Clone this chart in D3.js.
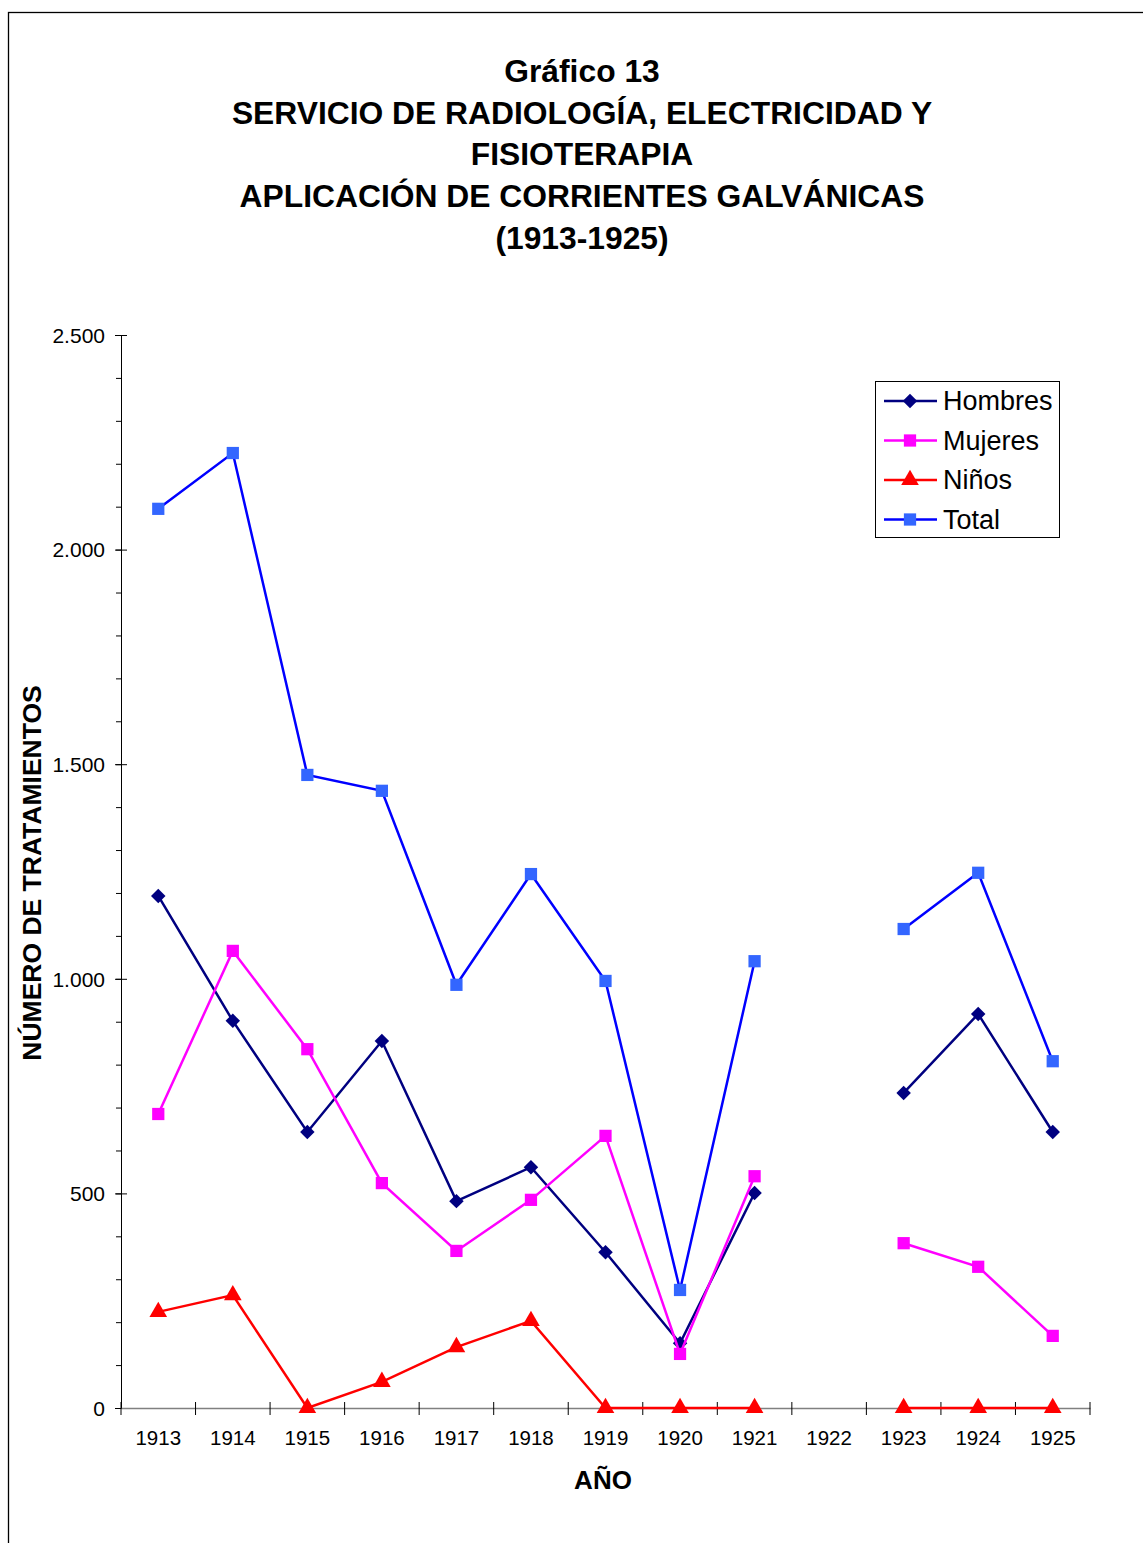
<!DOCTYPE html>
<html>
<head>
<meta charset="utf-8">
<script src="https://cdn.jsdelivr.net/npm/d3@7"></script>
<style>
  body { margin: 0; background: #fff; }
  svg { font-family: "Liberation Sans", Arial, sans-serif; }
</style>
</head>
<body>
<div id="chart"></div>
<script>
// data
const years = ["1913", "1914", "1915", "1916", "1917", "1918", "1919", "1920", "1921", "1922", "1923", "1924", "1925"];
const hombres = [1193, 902, 643, 855, 482, 561, 363, 151, 501, null, 734, 918, 643];
const mujeres = [685, 1065, 836, 524, 366, 485, 634, 126, 540, null, 384, 329, 168];
const ninos = [224, 263, 0, 61, 142, 203, 0, 0, 0, null, 0, 0, 0];
const total = [2095, 2225, 1475, 1438, 986, 1244, 995, 275, 1041, null, 1116, 1247, 808];
const yTicks = [0, 500, 1000, 1500, 2000, 2500];
const titleLines = ["Gráfico 13", "SERVICIO DE RADIOLOGÍA, ELECTRICIDAD Y", "FISIOTERAPIA", "APLICACIÓN DE CORRIENTES GALVÁNICAS", "(1913-1925)"];

const series = [
    { name: "Hombres", values: hombres, line: "#000080", fill: "#000080", shape: d3.symbolSquare, size: 105, rot: 45 },
    { name: "Mujeres", values: mujeres, line: "#FF00FF", fill: "#FF00FF", shape: d3.symbolSquare, size: 150, rot: 0 },
    { name: "Niños", values: ninos, line: "#FF0000", fill: "#FF0000", shape: d3.symbolTriangle, size: 135, rot: 0 },
    { name: "Total", values: total, line: "#0000FF", fill: "#3366FF", shape: d3.symbolSquare, size: 150, rot: 0 }
];

const width = 1143, height = 1543;
const plot = { left: 121, right: 1090, top: 335, bottom: 1408 };

const svg = d3.select("#chart").append("svg")
    .attr("width", width)
    .attr("height", height);

// outer frame (runs off the right and bottom edges)
svg.append("rect")
    .attr("x", 8.5).attr("y", 12.5)
    .attr("width", 1160).attr("height", 1560)
    .attr("fill", "none").attr("stroke", "#000").attr("stroke-width", 1.3);

// title
svg.append("g").selectAll("text")
    .data(titleLines)
    .join("text")
    .attr("x", 582)
    .attr("y", (d, i) => 82 + i * 41.7)
    .attr("text-anchor", "middle")
    .style("font-size", "31.8px")
    .style("font-weight", "bold")
    .text(d => d);

const x = d3.scaleBand().domain(years).range([plot.left, plot.right]);
const y = d3.scaleLinear().domain([0, 2500]).range([plot.bottom, plot.top]);
const cx = d => x(d) + x.bandwidth() / 2;

// y axis with minor ticks
const yMinor = d3.range(0, 2501, 100);
svg.append("g")
    .attr("transform", `translate(${plot.left},0)`)
    .call(d3.axisLeft(y).tickValues(yMinor).tickSize(5).tickFormat(""))
    .call(g => g.select(".domain").remove())
    .call(g => g.selectAll("line").attr("stroke", "#000"));

svg.append("g")
    .attr("transform", `translate(${plot.left},0)`)
    .call(d3.axisLeft(y).tickValues(yTicks).tickSizeInner(6).tickSizeOuter(0)
        .tickFormat(d => d3.format(",")(d).replace(/,/g, ".")))
    .call(g => g.select(".domain").attr("stroke", "#000"))
    .call(g => g.selectAll(".tick line").attr("x2", 6).attr("x1", -6).attr("stroke", "#000"))
    .call(g => g.selectAll("text").attr("x", -16).attr("dy", "0.35em").attr("fill", "#000")
        .style("font-size", "21px").style("font-family", "Liberation Sans, Arial, sans-serif"));

// x axis
svg.append("g")
    .attr("transform", `translate(0,${plot.bottom})`)
    .call(d3.axisBottom(x).tickSize(0))
    .call(g => g.select(".domain").attr("stroke", "#808080").attr("stroke-width", 1.5))
    .call(g => g.selectAll("text").attr("dy", "1.65em").attr("fill", "#000")
        .style("font-size", "20.5px").style("font-family", "Liberation Sans, Arial, sans-serif"));

// x category boundary ticks
svg.append("g").selectAll("line")
    .data(d3.range(years.length + 1))
    .join("line")
    .attr("x1", i => plot.left + i * x.step())
    .attr("x2", i => plot.left + i * x.step())
    .attr("y1", plot.bottom - 6)
    .attr("y2", plot.bottom + 7)
    .attr("stroke", "#000");

// axis titles
svg.append("text")
    .attr("transform", `translate(41,873) rotate(-90)`)
    .attr("text-anchor", "middle")
    .style("font-size", "26.5px")
    .style("font-weight", "bold")
    .text("NÚMERO DE TRATAMIENTOS");

svg.append("text")
    .attr("x", 603).attr("y", 1489)
    .attr("text-anchor", "middle")
    .style("font-size", "26px")
    .style("font-weight", "bold")
    .text("AÑO");

// lines and markers
const line = d3.line()
    .defined(d => d.v !== null)
    .x(d => cx(d.year))
    .y(d => y(d.v));

series.forEach(s => {
    const pts = years.map((yr, i) => ({ year: yr, v: s.values[i] }));
    const g = svg.append("g").attr("class", "series");
    g.append("path")
        .datum(pts)
        .attr("fill", "none")
        .attr("stroke", s.line)
        .attr("stroke-width", 2.5)
        .attr("d", line);
    g.selectAll("path.marker")
        .data(pts.filter(d => d.v !== null))
        .join("path")
        .attr("class", "marker")
        .attr("transform", d => `translate(${cx(d.year)},${y(d.v)}) rotate(${s.rot})`)
        .attr("d", d3.symbol(s.shape, s.size))
        .attr("fill", s.fill);
});

// legend
const legend = svg.append("g").attr("transform", "translate(875,381)");
legend.append("rect")
    .attr("x", 0.5).attr("y", 0.5)
    .attr("width", 184).attr("height", 156)
    .attr("fill", "#fff").attr("stroke", "#000");
const items = legend.selectAll("g.item")
    .data(series)
    .join("g")
    .attr("class", "item")
    .attr("transform", (d, i) => `translate(0,${20 + i * 39.5})`);
items.append("line")
    .attr("x1", 9).attr("x2", 62)
    .attr("stroke", d => d.line).attr("stroke-width", 2.5);
items.append("path")
    .attr("transform", d => `translate(35,0) rotate(${d.rot})`)
    .attr("d", d => d3.symbol(d.shape, d.size)())
    .attr("fill", d => d.fill);
items.append("text")
    .attr("x", 68).attr("dy", "0.35em")
    .style("font-size", "27px")
    .text(d => d.name);
</script>
</body>
</html>
